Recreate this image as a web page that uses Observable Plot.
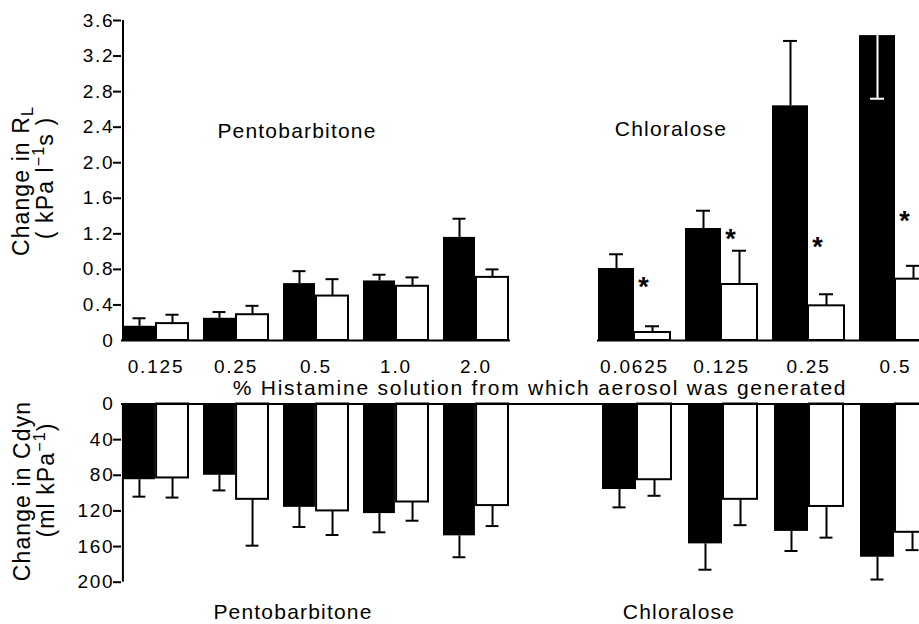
<!DOCTYPE html>
<html>
<head>
<meta charset="utf-8">
<script src="https://cdn.jsdelivr.net/npm/d3@7"></script>
<script src="https://cdn.jsdelivr.net/npm/@observablehq/plot@0.6"></script>
<style>
  html, body { margin: 0; padding: 0; background: #fff; }
  #fig { position: relative; width: 919px; height: 624px; overflow: hidden; background: #fff;
         font-family: "Liberation Sans", Arial, Helvetica, sans-serif; color: #000; }
  #fig svg { position: absolute; }
  .lbl { position: absolute; white-space: nowrap; line-height: 1; transform: translate(-50%, -50%); }
  .grp { font-size: 21px; letter-spacing: 1.2px; }
  .xt { font-size: 21px; letter-spacing: 1.75px; }
  .yt { position: absolute; white-space: nowrap; line-height: 1; font-size: 23px; letter-spacing: 1.1px;
        transform: translate(-50%, -50%) rotate(-90deg); }
  .yt sub, .yt sup { font-size: 0.7em; line-height: 0; }
  .yt sub { vertical-align: -0.3em; }
  .yt sup { vertical-align: 0.55em; }
</style>
</head>
<body>
<div id="fig"></div>
<script>
// ---------------- DATA ----------------
const pentoDoses = ["0.125", "0.25", "0.5", "1.0", "2.0"];
const chlorDoses = ["0.0625", "0.125", "0.25", "0.5"];

// Change in R_L (kPa l^-1 s): bar value and end of the error bar
const pentoRL_black    = [0.16, 0.25, 0.64, 0.67, 1.16];
const pentoRL_blackEnd = [0.25, 0.32, 0.78, 0.74, 1.37];
const pentoRL_white    = [0.19, 0.29, 0.50, 0.61, 0.71];
const pentoRL_whiteEnd = [0.29, 0.39, 0.69, 0.71, 0.80];

const chlorRL_black    = [0.81, 1.26, 2.64, 3.43];
const chlorRL_blackEnd = [0.97, 1.46, 3.37, 2.72];
const chlorRL_white    = [0.09, 0.63, 0.39, 0.69];
const chlorRL_whiteEnd = [0.16, 1.01, 0.52, 0.84];
const chlorRL_asteriskAt = [0.64, 1.18, 1.09, 1.38];

// Change in Cdyn (ml kPa^-1), drawn downward
const pentoC_black    = [85, 80, 116, 123, 148];
const pentoC_blackEnd = [104, 97, 138, 144, 172];
const pentoC_white    = [83, 107, 120, 110, 114];
const pentoC_whiteEnd = [105, 159, 147, 131, 137];

const chlorC_black    = [96, 157, 143, 172];
const chlorC_blackEnd = [116, 186, 165, 197];
const chlorC_white    = [85, 107, 115, 144];
const chlorC_whiteEnd = [103, 136, 150, 164];

const rlTicks = [0, 0.4, 0.8, 1.2, 1.6, 2.0, 2.4, 2.8, 3.2, 3.6];
const cTicks = [0, 40, 80, 120, 160, 200];

// ---------------- HELPERS ----------------
const fig = document.getElementById("fig");
const FONT = '"Liberation Sans", Arial, Helvetica, sans-serif';

function rowsOf(doses, black, blackEnd, white, whiteEnd, star) {
  return doses.map((d, i) => ({
    dose: d, black: black[i], blackEnd: blackEnd[i], white: white[i], whiteEnd: whiteEnd[i],
    star: star ? star[i] : null
  }));
}
function bandwidth(r0, r1, n, pi) { return (r1 - r0) * (1 - pi) / (n - pi); }

function barMarks(rows, bw, cap) {
  const errStroke = (v, e) => (e < v ? "white" : "black");
  return [
    Plot.barY(rows, {x: "dose", y: "black", fill: "black", insetRight: bw / 2}),
    Plot.barY(rows, {x: "dose", y: "white", fill: "white", stroke: "black", strokeWidth: 2, insetLeft: bw / 2}),
    Plot.ruleX(rows, {x: "dose", y1: "black", y2: "blackEnd", dx: -bw / 4, strokeWidth: 2,
      stroke: d => errStroke(d.black, d.blackEnd)}),
    Plot.tickY(rows, {x: "dose", y: "blackEnd", dx: -bw / 4, strokeWidth: 2,
      insetLeft: (bw - cap) / 2, insetRight: (bw - cap) / 2,
      stroke: d => errStroke(d.black, d.blackEnd)}),
    Plot.ruleX(rows, {x: "dose", y1: "white", y2: "whiteEnd", dx: bw / 4, strokeWidth: 2, stroke: "black"}),
    Plot.tickY(rows, {x: "dose", y: "whiteEnd", dx: bw / 4, strokeWidth: 2,
      insetLeft: (bw - cap) / 2, insetRight: (bw - cap) / 2, stroke: "black"})
  ];
}

function place(svg, left, top) {
  svg.style.left = left + "px";
  svg.style.top = top + "px";
  fig.appendChild(svg);
}

const baseStyle = {background: "transparent", overflow: "visible", fontFamily: FONT, color: "black",
                   fontSize: "19px", letterSpacing: "1.8px"};

// ---------------- TOP LEFT: Pentobarbitone R_L ----------------
{
  const pi = 0.1827, bw = bandwidth(121, 510, 5, pi);
  const rows = rowsOf(pentoDoses, pentoRL_black, pentoRL_blackEnd, pentoRL_white, pentoRL_whiteEnd);
  const p = Plot.plot({
    width: 520, height: 380, marginLeft: 121, marginRight: 10, marginTop: 20, marginBottom: 40,
    style: baseStyle,
    color: {type: "identity"},
    x: {type: "band", domain: pentoDoses, paddingInner: pi, paddingOuter: 0, axis: null},
    y: {domain: [0, 3.6], axis: null},
    marks: [
      ...barMarks(rows, bw, 14),
      Plot.ruleY([0], {strokeWidth: 2}),
      Plot.ruleX([pentoDoses[0]], {y1: 0, y2: 3.6, dx: -bw / 2, strokeWidth: 2}),
      Plot.axisY({ticks: rlTicks, tickSize: 0, tickPadding: 7, fontSize: 19, label: null,
        tickFormat: d => d === 0 ? "0" : d3.format(".1f")(d)}),
      Plot.axisY({ticks: rlTicks.filter(t => t > 0), tickSize: 8, strokeWidth: 2, label: null, tickFormat: () => ""}),
      Plot.axisX({tickSize: 0, tickPadding: 19, fontSize: 19, label: null})
    ]
  });
  place(p, 0, 0);
}

// ---------------- TOP RIGHT: Chloralose R_L ----------------
{
  const pi = 0.1756, bw = bandwidth(597, 931, 4, pi);
  const rows = rowsOf(chlorDoses, chlorRL_black, chlorRL_blackEnd, chlorRL_white, chlorRL_whiteEnd, chlorRL_asteriskAt);
  const p = Plot.plot({
    width: 400, height: 380, marginLeft: 37, marginRight: 29, marginTop: 20, marginBottom: 40,
    style: baseStyle,
    color: {type: "identity"},
    x: {type: "band", domain: chlorDoses, paddingInner: pi, paddingOuter: 0, axis: null},
    y: {domain: [0, 3.6], axis: null},
    marks: [
      ...barMarks(rows, bw, 14),
      Plot.ruleY([0], {strokeWidth: 2}),
      Plot.text(rows, {x: "dose", y: "star", text: () => "*", dx: 10, dy: 4, fontSize: 27, fontWeight: "bold"}),
      Plot.axisX({tickSize: 0, tickPadding: 19, fontSize: 19, label: null})
    ]
  });
  place(p, 560, 0);
}

// ---------------- BOTTOM LEFT: Pentobarbitone Cdyn ----------------
{
  const pi = 0.1827, bw = bandwidth(121, 511, 5, pi);
  const rows = rowsOf(pentoDoses, pentoC_black, pentoC_blackEnd, pentoC_white, pentoC_whiteEnd);
  const p = Plot.plot({
    width: 520, height: 220, marginLeft: 121, marginRight: 9, marginTop: 23.5, marginBottom: 18.3,
    style: baseStyle,
    color: {type: "identity"},
    x: {type: "band", domain: pentoDoses, paddingInner: pi, paddingOuter: 0, axis: null},
    y: {domain: [0, 200], reverse: true, axis: null},
    marks: [
      ...barMarks(rows, bw, 14),
      Plot.ruleY([0], {strokeWidth: 2}),
      Plot.ruleX([pentoDoses[0]], {y1: 0, y2: 200, dx: -bw / 2, strokeWidth: 2}),
      Plot.axisY({ticks: cTicks, tickSize: 0, tickPadding: 7, fontSize: 19, label: null, tickFormat: d => String(d)}),
      Plot.axisY({ticks: cTicks.filter(t => t > 0), tickSize: 8, strokeWidth: 2, label: null, tickFormat: () => ""})
    ]
  });
  place(p, 0, 380);
}

// ---------------- BOTTOM RIGHT: Chloralose Cdyn ----------------
{
  const pi = 0.195, bw = bandwidth(600, 931, 4, pi);
  const rows = rowsOf(chlorDoses, chlorC_black, chlorC_blackEnd, chlorC_white, chlorC_whiteEnd);
  const p = Plot.plot({
    width: 449, height: 220, marginLeft: 0, marginRight: 29, marginTop: 23.5, marginBottom: 18.3,
    style: baseStyle,
    color: {type: "identity"},
    x: {type: "band", domain: chlorDoses, range: [89, 420], paddingInner: pi, paddingOuter: 0, axis: null},
    y: {domain: [0, 200], reverse: true, axis: null},
    marks: [
      ...barMarks(rows, bw, 14),
      Plot.ruleY([0], {strokeWidth: 2})
    ]
  });
  place(p, 511, 380);
}

// ---------------- TEXT LABELS ----------------
function label(cls, html, x, y) {
  const d = document.createElement("div");
  d.className = cls;
  d.innerHTML = html;
  d.style.left = x + "px";
  d.style.top = y + "px";
  fig.appendChild(d);
}
label("lbl grp", "Pentobarbitone", 297, 130);
label("lbl grp", "Chloralose", 671, 128);
label("lbl xt", "% Histamine solution from which aerosol was generated", 540, 387);
label("lbl grp", "Pentobarbitone", 293, 611);
label("lbl grp", "Chloralose", 679, 611);
label("yt", "Change in R<sub>L</sub>", 21, 181);
label("yt", "( kPa l<sup>−1</sup>s )", 45, 178);
label("yt", "Change in Cdyn", 22, 491);
label("yt", "(ml kPa<sup>−1</sup>)", 46, 480);
</script>
</body>
</html>
